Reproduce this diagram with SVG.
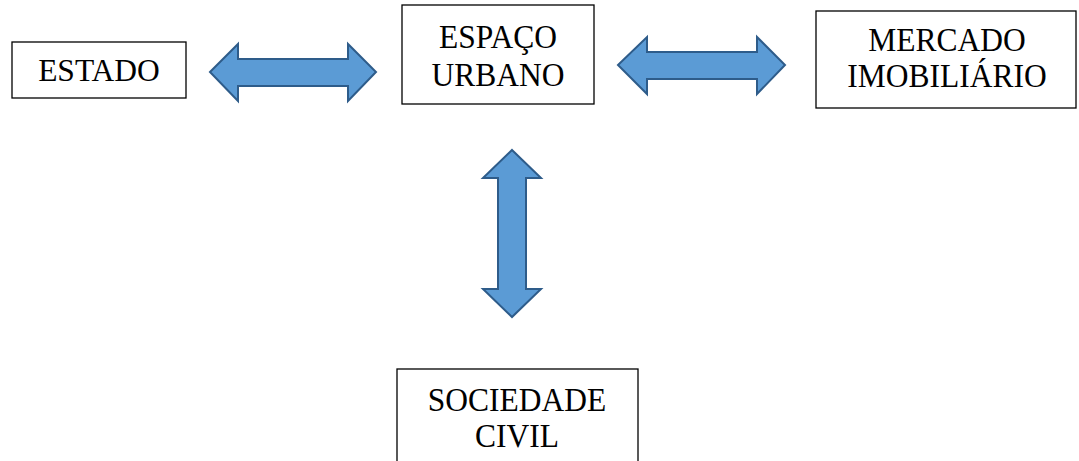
<svg xmlns="http://www.w3.org/2000/svg" width="1079" height="461" viewBox="0 0 1079 461">
<style>
.box{fill:#fff;stroke:#000;stroke-width:1.3}
.lbl{font-family:"Liberation Serif","Times New Roman",serif;font-size:31.5px;fill:#000;text-anchor:middle}
.arr{fill:#5B9BD5;stroke:#2E5C8A;stroke-width:2;stroke-linejoin:miter}
</style>
<rect width="1079" height="461" fill="#fff"/>
<g id="connectors">
<polygon class="arr" points="210,72 238,44 238,59 348,59 348,44 376,72 348,101 348,86 238,86 238,101"/>
<polygon class="arr" points="618,65 647,37 647,52 757,52 757,37 785,65 757,94 757,79 647,79 647,94"/>
<polygon class="arr" points="512,150 541,178 526,178 526,289 541,289 512,317 483,289 498,289 498,178 483,178"/>
</g>
<g id="estado">
<rect class="box" x="12" y="42" width="174" height="56"/>
<text class="lbl" x="99" y="81">ESTADO</text>
</g>
<g id="espaco-urbano">
<rect class="box" x="402" y="5" width="192" height="99"/>
<text class="lbl" transform="translate(498,48) scale(1,1.1)">ESPAÇO</text>
<text class="lbl" transform="translate(498,86) scale(1,1.1)">URBANO</text>
</g>
<g id="mercado-imobiliario">
<rect class="box" x="816" y="11" width="260" height="97"/>
<text class="lbl" transform="translate(947,51) scale(1,1.1)">MERCADO</text>
<text class="lbl" transform="translate(947,87) scale(1,1.1)">IMOBILIÁRIO</text>
</g>
<g id="sociedade-civil">
<rect class="box" x="397" y="369" width="241" height="100"/>
<text class="lbl" transform="translate(517,411) scale(1,1.1)">SOCIEDADE</text>
<text class="lbl" transform="translate(517,447) scale(1,1.1)">CIVIL</text>
</g>
</svg>
